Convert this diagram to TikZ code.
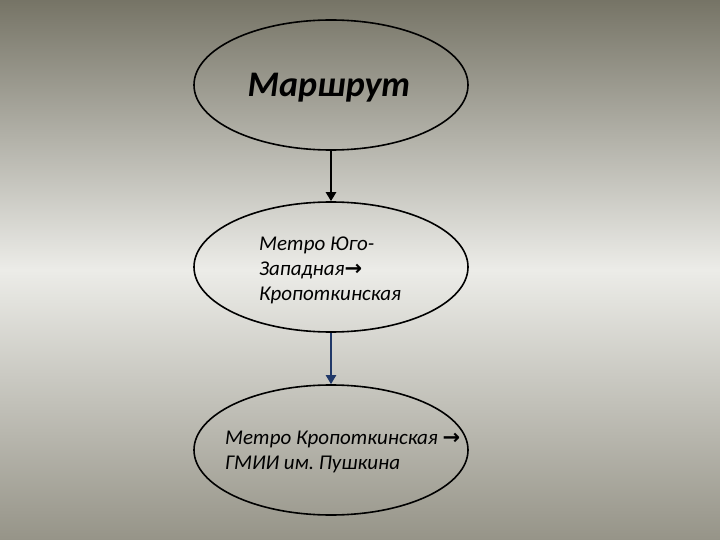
\documentclass[tikz,border=0pt]{standalone}
\usepackage{fontspec}
\setmainfont{Carlito}
\newfontfamily\flechefont{DejaVu Sans}
\usepackage{tikz}
\usetikzlibrary{arrows.meta, shapes.geometric}
\definecolor{fondhaut}{RGB}{118,116,102}
\definecolor{fondmilieu}{RGB}{236,236,232}
\definecolor{fondbas}{RGB}{150,148,136}
\definecolor{bleu}{RGB}{32,56,104}
\tikzstyle{bulle} = [ellipse, draw=black, line width=1.6pt, minimum width=274pt, minimum height=130pt, inner sep=0pt]
\tikzstyle{texte} = [inner sep=0pt, align=left, text=black, font=\itshape\fontsize{21}{25}\selectfont]
\tikzstyle{fleche} = [-{Triangle[width=10pt, length=9pt]}]
\frenchspacing

\begin{document}
\begin{tikzpicture}[x=1pt, y=-1pt]

        \shade [top color=fondhaut, bottom color=fondbas, middle color=fondmilieu] (0,0) rectangle (720,540);
        \useasboundingbox (0,0) rectangle (720,540);

        \node (route)  [bulle] at (331,85) {};
        \node (etape1) [bulle] at (331,267) {};
        \node (etape2) [bulle] at (331,450) {};

        \node (titre) [texte, font=\bfseries\itshape\fontsize{36}{40}\selectfont] at (329,88) {Маршрут};
        \node (trajet1) [texte, anchor=west] at (259,270) {Метро Юго-\\Западная{\flechefont\bfseries→}\\Кропоткинская};
        \node (trajet2) [texte, anchor=west] at (225,452) {Метро Кропоткинская {\flechefont\bfseries→}\\ГМИИ им. Пушкина};

        \draw [fleche, line width=2.5pt] (route) -- (etape1);
        \draw [fleche, line width=2pt, color=bleu] (etape1) -- (etape2);

    \end{tikzpicture}
\end{document}
